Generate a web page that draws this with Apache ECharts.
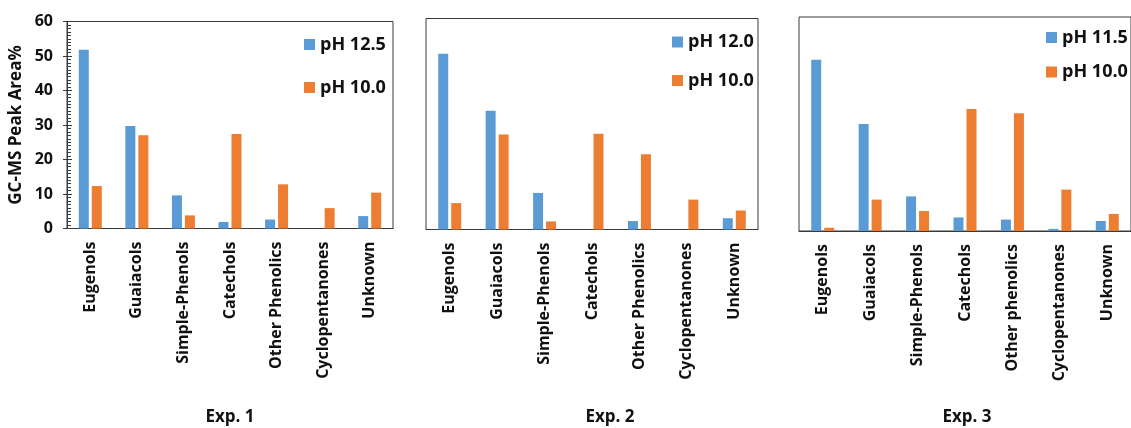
<!DOCTYPE html>
<html>
<head>
<meta charset="utf-8">
<script src="https://cdn.jsdelivr.net/npm/echarts@6/dist/echarts.min.js"></script>
<style>
html,body{margin:0;padding:0;background:#fff;}
#chart{width:1131px;height:428px;}
</style>
</head>
<body>
<div id="chart"></div>
<script>
// ---- data ----
const categories12 = ['Eugenols','Guaiacols','Simple-Phenols','Catechols','Other Phenolics','Cyclopentanones','Unknown'];
const categories3 = ['Eugenols','Guaiacols','Simple-Phenols','Catechols','Other phenolics','Cyclopentanones','Unknown'];
const exp1High = [51.8, 29.7, 9.6, 1.9, 2.6, 0, 3.6];    // pH 12.5
const exp1Low  = [12.3, 27.0, 3.8, 27.4, 12.8, 5.9, 10.4]; // pH 10.0
const exp2High = [50.0, 33.8, 10.4, 0, 2.4, 0, 3.2];     // pH 12.0
const exp2Low  = [7.5, 27.0, 2.3, 27.2, 21.4, 8.5, 5.4];  // pH 10.0
const exp3High = [48.0, 30.0, 9.7, 3.8, 3.2, 0.6, 2.8];   // pH 11.5
const exp3Low  = [0.9, 8.8, 5.6, 34.2, 33.0, 11.6, 4.8];  // pH 10.0
const highNames = ['pH 12.5','pH 12.0','pH 11.5'];
const lowName = 'pH 10.0';
const expTitles = ['Exp. 1','Exp. 2','Exp. 3'];
const yTickLabels = ['0','10','20','30','40','50','60'];
const yTitle = 'GC-MS Peak Area%';

// ---- style ----
const FONT = '"Open Sans", "Noto Sans", sans-serif';
const BLUE = '#5B9BD5';
const ORANGE = '#ED7D31';
const FRAME = '#3a3a3a';
const TXT = '#111';

const grids = [
  {left: 67, top: 21.5, width: 326, height: 207},
  {left: 426, top: 18.5, width: 332, height: 211},
  {left: 799, top: 17, width: 338, height: 214}
];
const legendPos = [
  {left: 304, top: 35.5, gap: 25},
  {left: 672, top: 33, gap: 20.5},
  {left: 1046, top: 28.5, gap: 16.5}
];
const expX = [230, 610, 967];

const chart = echarts.init(document.getElementById('chart'), null, {renderer: 'canvas'});

const option = {
  backgroundColor: '#fff',
  animation: false,
  grid: grids.map(g => Object.assign({show: true, borderColor: FRAME, borderWidth: 1, backgroundColor: 'transparent', containLabel: false}, g)),
  xAxis: [0,1,2].map(i => ({
    type: 'category',
    gridIndex: i,
    data: i === 2 ? categories3 : categories12,
    axisLine: {show: true, lineStyle: {color: FRAME, width: 1}},
    axisTick: {show: false},
    axisLabel: {rotate: 90, margin: 13, color: TXT, fontFamily: FONT, fontWeight: 'bold', fontSize: 16, interval: 0}
  })),
  yAxis: [
    {
      type: 'value', gridIndex: 0, position: 'left', min: 0, max: 60, interval: 10,
      name: yTitle, nameLocation: 'middle', nameGap: 42, nameRotate: 90,
      nameTextStyle: {color: TXT, fontFamily: FONT, fontWeight: 'bold', fontSize: 17},
      axisLine: {show: true, lineStyle: {color: FRAME, width: 1}},
      axisTick: {show: true, inside: false, length: 4, lineStyle: {color: FRAME}},
      axisLabel: {margin: 14, color: TXT, fontFamily: FONT, fontWeight: 'bold', fontSize: 16,
        formatter: v => yTickLabels[Math.round(v / 10)]},
      splitLine: {show: false}
    },
    {
      type: 'value', gridIndex: 0, position: 'left', offset: 0, min: 0, max: 60, interval: 10,
      axisLine: {show: false},
      axisTick: {show: true, inside: true, length: 5, lineStyle: {color: FRAME}},
      minorTick: {show: true, splitNumber: 10, length: 4, lineStyle: {color: FRAME}},
      axisLabel: {show: false},
      splitLine: {show: false}
    },
    {type: 'value', gridIndex: 1, min: 0, max: 60, show: false, splitLine: {show: false}},
    {type: 'value', gridIndex: 2, min: 0, max: 60, show: false, splitLine: {show: false}}
  ],
  legend: [0,1,2].map(i => ({
    data: [highNames[i], lowName],
    orient: 'vertical',
    left: legendPos[i].left, top: legendPos[i].top,
    itemGap: legendPos[i].gap,
    itemWidth: 11, itemHeight: 11,
    icon: 'rect',
    padding: 0,
    selectedMode: false,
    textStyle: {color: TXT, fontFamily: FONT, fontWeight: 'bold', fontSize: 18, lineHeight: 18}
  })),
  series: [
    [exp1High, exp1Low], [exp2High, exp2Low], [exp3High, exp3Low]
  ].flatMap((pair, i) => [
    {type: 'bar', name: highNames[i], xAxisIndex: i, yAxisIndex: i === 0 ? 0 : i + 1, data: pair[0],
     barWidth: 10, barGap: '30%', itemStyle: {color: BLUE}},
    {type: 'bar', name: lowName, xAxisIndex: i, yAxisIndex: i === 0 ? 0 : i + 1, data: pair[1],
     barWidth: 10, barGap: '30%', itemStyle: {color: ORANGE}}
  ]),
  graphic: expTitles.map((t, i) => ({
    type: 'text', x: expX[i], y: 417,
    style: {text: t, fill: TXT, font: 'bold 17px ' + FONT, align: 'center', verticalAlign: 'middle'}
  }))
};
chart.setOption(option);
</script>
</body>
</html>
